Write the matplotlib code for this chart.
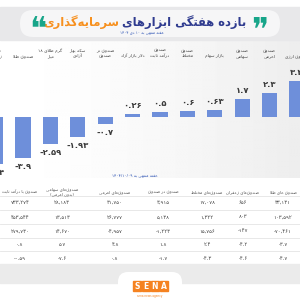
import re
import numpy as np
import matplotlib
matplotlib.use("Agg")
import matplotlib.pyplot as plt
from matplotlib.patches import FancyBboxPatch, Rectangle

# داده ها (به ترتیب نمایش از چپ به راست)
categories = ["صندوق\nزعفران", "صندوق طلا", "گرم طلای ۱۸\nعیار", "سکه بهار\nآزادی",
              "صندوق در\nصندوق", "دلار بازار آزاد", "صندوق\nدرآمد ثابت", "صندوق\nمختلط",
              "بازار سهام", "صندوق\nسهامی", "صندوق\nاهرمی", "صندوق ارزی"]
returns = [-4.4, -3.9, -2.59, -1.93, -0.7, 0.26, 0.5, 0.6, 0.63, 1.7, 2.3, 3.4]

table_headers = ["صندوق با درآمد ثابت", "صندوق‌های سهامی\n(بدون اهرمی)", "صندوق‌های اهرمی",
                 "صندوق در صندوق", "صندوق‌های مختلط", "صندوق‌های زعفران", "صندوق های طلا"]
row1 = [733274, 28183, 31750, 3915, 17078, 656, 33131]
row2 = [453544, 13513, 26777, 5138, 1322, 803, 103592]
row3 = [279730, 14670, -4957, -1223, 15756, -147, -70461]
row4 = [0.8, 5.7, 4.8, 1.8, 2.4, -4.2, -3.7]
row5 = [-0.59, -7.6, 0.8, -1.7, -4.3, -4.6, -4.7]

title_blue = "بازده هفتگی ابزارهای"
title_orange = "سرمایه‌گذاری"
subtitle = "هفته منتهی به ۱۰ دی ۱۴۰۴"
caption = "هفته منتهی به ۱۴۰۴/۱۰/۰۹"

FORMS = {
    'ا': ('\uFE8D', '\uFE8E', None, None), 'آ': ('\uFE81', '\uFE82', None, None),
    'ب': ('\uFE8F', '\uFE90', '\uFE91', '\uFE92'), 'پ': ('\uFB56', '\uFB57', '\uFB58', '\uFB59'),
    'ت': ('\uFE95', '\uFE96', '\uFE97', '\uFE98'), 'ث': ('\uFE99', '\uFE9A', '\uFE9B', '\uFE9C'),
    'ج': ('\uFE9D', '\uFE9E', '\uFE9F', '\uFEA0'), 'چ': ('\uFB7A', '\uFB7B', '\uFB7C', '\uFB7D'),
    'ح': ('\uFEA1', '\uFEA2', '\uFEA3', '\uFEA4'), 'خ': ('\uFEA5', '\uFEA6', '\uFEA7', '\uFEA8'),
    'د': ('\uFEA9', '\uFEAA', None, None), 'ذ': ('\uFEAB', '\uFEAC', None, None),
    'ر': ('\uFEAD', '\uFEAE', None, None), 'ز': ('\uFEAF', '\uFEB0', None, None),
    'ژ': ('\uFB8A', '\uFB8B', None, None),
    'س': ('\uFEB1', '\uFEB2', '\uFEB3', '\uFEB4'), 'ش': ('\uFEB5', '\uFEB6', '\uFEB7', '\uFEB8'),
    'ص': ('\uFEB9', '\uFEBA', '\uFEBB', '\uFEBC'), 'ض': ('\uFEBD', '\uFEBE', '\uFEBF', '\uFEC0'),
    'ط': ('\uFEC1', '\uFEC2', '\uFEC3', '\uFEC4'), 'ظ': ('\uFEC5', '\uFEC6', '\uFEC7', '\uFEC8'),
    'ع': ('\uFEC9', '\uFECA', '\uFECB', '\uFECC'), 'غ': ('\uFECD', '\uFECE', '\uFECF', '\uFED0'),
    'ف': ('\uFED1', '\uFED2', '\uFED3', '\uFED4'), 'ق': ('\uFED5', '\uFED6', '\uFED7', '\uFED8'),
    'ک': ('\uFB8E', '\uFB8F', '\uFB90', '\uFB91'), 'گ': ('\uFB92', '\uFB93', '\uFB94', '\uFB95'),
    'ل': ('\uFEDD', '\uFEDE', '\uFEDF', '\uFEE0'), 'م': ('\uFEE1', '\uFEE2', '\uFEE3', '\uFEE4'),
    'ن': ('\uFEE5', '\uFEE6', '\uFEE7', '\uFEE8'), 'ه': ('\uFEE9', '\uFEEA', '\uFEEB', '\uFEEC'),
    'و': ('\uFEED', '\uFEEE', None, None), 'ی': ('\uFBFC', '\uFBFD', '\uFBFE', '\uFBFF'),
}
MIRROR = {'(': ')', ')': '('}


def shape(s):
    out, i, n = [], 0, len(s)
    while i < n:
        c = s[i]
        if c not in FORMS:
            if c != '\u200c':
                out.append(c)
            i += 1
            continue
        prev = s[i - 1] if i > 0 else ''
        jp = prev in FORMS and FORMS[prev][2] is not None
        if c == 'ل' and i + 1 < n and s[i + 1] in 'اآ':
            lig = {'ا': ('\uFEFB', '\uFEFC'), 'آ': ('\uFEF5', '\uFEF6')}[s[i + 1]]
            out.append(lig[1] if jp else lig[0])
            i += 2
            continue
        nxt = s[i + 1] if i + 1 < n else ''
        f = FORMS[c]
        jn = f[2] is not None and nxt in FORMS
        out.append(f[3] if jp and jn else f[1] if jp else f[2] if jn else f[0])
        i += 1
    return ''.join(out)


def fa(s):
    lines = []
    for line in s.split('\n'):
        toks = re.findall(r'[۰-۹0-9/.,]+|.', shape(line))
        lines.append(''.join(MIRROR.get(t, t) for t in reversed(toks)))
    return '\n'.join(lines)


def fa_num(v):
    s = f"{v:,}" if isinstance(v, int) else f"{v:g}"
    return s.translate(str.maketrans("0123456789", "۰۱۲۳۴۵۶۷۸۹"))


plt.rcParams['font.family'] = ['DejaVu Sans']
fig = plt.figure(figsize=(3, 3), dpi=100)
fig.patch.set_facecolor("white")

# پس زمینه و قاب ها در مختصات پیکسل
bg = fig.add_axes([0, 0, 1, 1])
bg.set_xlim(0, 300)
bg.set_ylim(300, 0)
bg.axis("off")
grad = np.linspace(0, 1, 200)[None, :] ** 1.5
bg.imshow(1 - 0.07 * grad, cmap="gray", vmin=0, vmax=1, extent=(0, 300, 178, 40), aspect="auto", zorder=0)
bg.add_patch(Rectangle((0, 7), 300, 33, color="#e8e8ea", zorder=1))
bg.add_patch(FancyBboxPatch((20, 10), 260, 27, boxstyle="round,pad=0,rounding_size=13",
                            fc="#f6f6f7", ec="none", zorder=2))
t1 = bg.text(246, 22, fa(title_blue), color="#2f3b8f", fontsize=8.3, fontweight="bold",
             ha="right", va="center", zorder=3)
fig.canvas.draw()
w = t1.get_window_extent().width * 300 / fig.bbox.width
bg.text(246 - w - 3, 22, fa(title_orange), color="#f7901e", fontsize=8.3, fontweight="bold",
        ha="right", va="center", zorder=3)
bg.text(260, 31, "\u275e", color="#17a589", fontsize=23, ha="center", va="center", zorder=3)
bg.text(38, 31, "\u275d", color="#17a589", fontsize=23, ha="center", va="center", zorder=3)
bg.text(142, 33.5, fa(subtitle), color="#2f55b5", fontsize=2.8, ha="center", va="center", zorder=3)

# جدول
col_x = [20, 62, 115, 163, 207, 243, 283]
row_y = [202, 217, 231, 244, 258]
bg.text(135, 175, fa(caption), color="#2f55b5", fontsize=3, ha="center", va="center")
for x, h in zip(col_x, table_headers):
    bg.text(x, 192, fa(h), color="#555555", fontsize=3, ha="center", va="center", linespacing=1.2)
for y, row in zip(row_y, [row1, row2, row3, row4, row5]):
    for x, v in zip(col_x, row):
        bg.text(x, y, fa_num(v), color="#444444", fontsize=3.8, ha="center", va="center")
for y in [196, 210, 224, 238, 251]:
    bg.plot([0, 300], [y, y], color="#e4e4e4", lw=0.6)
bg.add_patch(Rectangle((0, 264), 300, 19, color="#ebebeb", zorder=1))
bg.add_patch(FancyBboxPatch((118, 272), 64, 40, boxstyle="round,pad=0,rounding_size=10",
                            fc="white", ec="none", zorder=2))
for i, letter in enumerate("SENA"):
    bg.add_patch(Rectangle((133 + i * 9, 281), 8, 10, color="#f58220", zorder=3))
    bg.text(137 + i * 9, 286.5, letter, color="white", fontsize=5.5, fontweight="bold",
            ha="center", va="center", zorder=4)
bg.text(150, 296, "sena news agency", color="#f58220", fontsize=2, ha="center", va="center", zorder=4)

# نمودار میله ای
ax = fig.add_axes([0, (300 - 172) / 300, 1, 110 / 300])
ax.patch.set_alpha(0)
x = np.arange(len(returns))
ax.bar(x, returns, width=0.56, color="#6e8fda", zorder=3)
ax.set_xlim(0.16, 11.11)
ax.set_ylim(-5.19, 5.19)
ax.axis("off")
for xi, v, c in zip(x, returns, categories):
    off = 0.38 if v > 0 else -0.38
    ax.text(xi, v + off, fa_num(v), ha="center", va="bottom" if v > 0 else "top",
            fontsize=6, fontweight="bold", color="#3a3a3a")
    ax.text(xi, 1.035, fa(c), transform=ax.get_xaxis_transform(), ha="center", va="bottom",
            fontsize=3.2, color="#444444", linespacing=1.3, clip_on=False)

fig.savefig("out.png", dpi=100)
